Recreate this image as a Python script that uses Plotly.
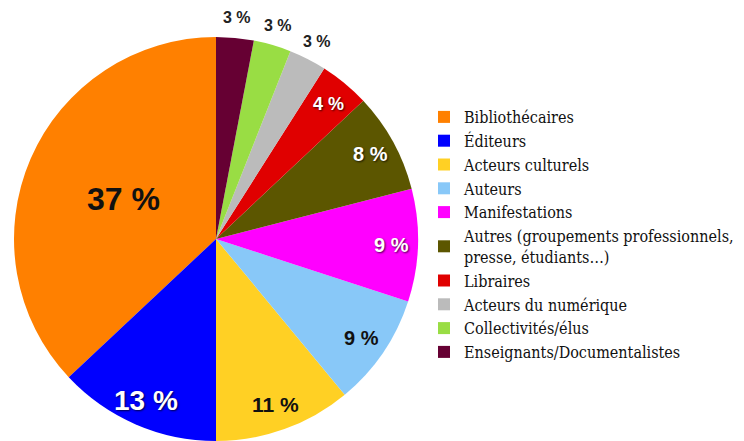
import math
import plotly.graph_objects as go

labels = [
    "Bibliothécaires",
    "Éditeurs",
    "Acteurs culturels",
    "Auteurs",
    "Manifestations",
    "Autres (groupements professionnels,<br>presse, étudiants…)",
    "Libraires",
    "Acteurs du numérique",
    "Collectivités/élus",
    "Enseignants/Documentalistes",
]
values = [37, 13, 11, 9, 9, 8, 4, 3, 3, 3]
colors = ["#FF8000", "#0000FF", "#FFD024", "#88C8F8", "#FF00FF",
          "#5C5600", "#E00000", "#BBBBBB", "#99DD44", "#660033"]
text_colors = ["#111111", "#FFFFFF", "#111111", "#111111", "#FFFFFF",
               "#FFFFFF", "#FFFFFF", "#222222", "#222222", "#222222"]
text_sizes = [32, 28, 21, 20, 20, 20, 18, 16, 16, 16]

W, H = 744, 441
dom_x = [14 / W, 418 / W]
dom_y = [0, 404 / H]

# first slice starts at 12 o'clock and the slices run counterclockwise
total = sum(values)
first_share = 360 * values[0] / total

fig = go.Figure(go.Pie(
    labels=labels,
    values=values,
    sort=False,
    direction="counterclockwise",
    rotation=-first_share,
    marker=dict(colors=colors, line=dict(width=0)),
    textinfo="none",
    hoverinfo="label+percent",
    domain=dict(x=dom_x, y=dom_y),
    showlegend=True,
))

# percentage labels placed along each slice's bisector
cx = W * (dom_x[0] + dom_x[1]) / 2
cy = H * (1 - (dom_y[0] + dom_y[1]) / 2)
R = min(W * (dom_x[1] - dom_x[0]), H * (dom_y[1] - dom_y[0])) / 2
cum = 0
for v, tc, ts in zip(values, text_colors, text_sizes):
    mid = 90 + 360 * (cum + v / 2) / total
    cum += v
    if v > 30:
        frac = 0.5
    elif v >= 4:
        frac = 0.87
    else:
        frac = 1.1
    a = math.radians(mid)
    px = cx + frac * R * math.cos(a)
    py = cy - frac * R * math.sin(a)
    shadow = "1px 1px 2px rgba(0,0,0,0.7)" if tc == "#FFFFFF" else "none"
    fig.add_annotation(
        x=px / W, y=1 - py / H, xref="paper", yref="paper",
        text=f"{v} %", showarrow=False, xanchor="center", yanchor="middle",
        font=dict(family="Liberation Sans", size=ts, color=tc,
                  weight="bold", shadow=shadow),
    )

fig.update_layout(
    width=W,
    height=H,
    margin=dict(l=0, r=0, t=0, b=0, autoexpand=False),
    paper_bgcolor="white",
    plot_bgcolor="white",
    legend=dict(
        x=424 / W, y=1 - 100 / H, xanchor="left", yanchor="top",
        font=dict(family="DejaVu Serif Condensed, DejaVu Serif", size=16,
                  color="#111111"),
        itemwidth=30,
        traceorder="normal",
        bgcolor="rgba(0,0,0,0)",
    ),
)

fig.write_html("out.html", config={"displayModeBar": False},
               post_script="document.body.style.margin='0px';")
